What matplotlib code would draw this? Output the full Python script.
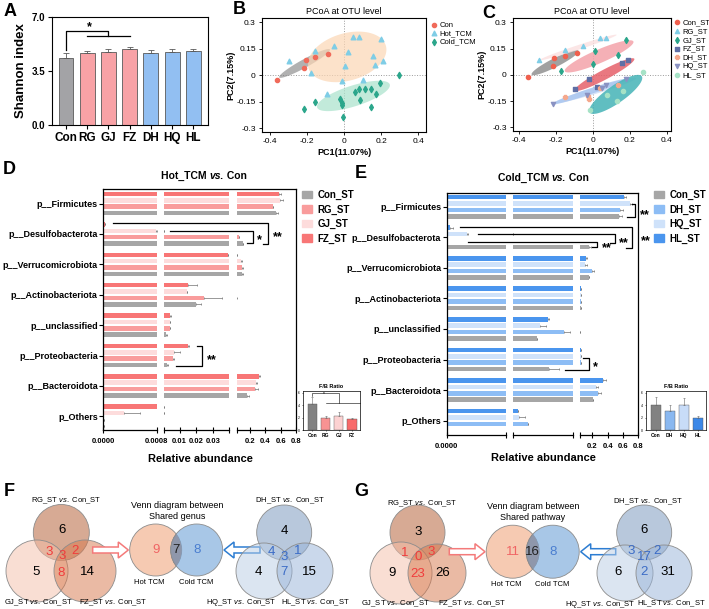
import numpy as np
import matplotlib
matplotlib.use('Agg')
import matplotlib.pyplot as plt
from matplotlib.patches import Circle, FancyArrow, Polygon, Patch
from matplotlib.colors import to_rgba

plt.rcParams['font.family'] = ['Liberation Sans', 'DejaVu Sans']
plt.rcParams['mathtext.fontset'] = 'custom'
plt.rcParams['mathtext.rm'] = 'Liberation Sans'
plt.rcParams['mathtext.it'] = 'Liberation Sans:italic'
plt.rcParams['mathtext.bf'] = 'Liberation Sans:bold'

# ---------------- data ----------------
# A: Shannon index
groups = ['Con', 'RG', 'GJ', 'FZ', 'DH', 'HQ', 'HL']
shannon = [4.34, 4.65, 4.75, 4.90, 4.65, 4.75, 4.82]
shannon_err = [0.32, 0.17, 0.17, 0.17, 0.22, 0.19, 0.13]

# B: PCoA, three groups
b_con_x = [-0.364, -0.216, -0.205, -0.154, -0.089]
b_con_y = [-0.026, 0.041, 0.090, 0.105, 0.122]
b_hot_x = [-0.296, -0.154, -0.178, -0.053, 0.050, 0.082, 0.199, 0.019, 0.154, 0.208, 0.168, 0.005, -0.010, 0.104, -0.092]
b_hot_y = [0.084, 0.141, 0.015, 0.169, 0.218, 0.218, 0.206, 0.135, 0.109, 0.079, 0.060, 0.056, -0.034, -0.028, -0.103]
b_cold_x = [0.296, 0.192, 0.148, 0.175, 0.114, 0.082, 0.059, 0.086, -0.022, -0.013, -0.010, -0.154, -0.215, -0.005, 0.147]
b_cold_y = [0.000, -0.041, -0.075, -0.107, -0.075, -0.079, -0.094, -0.139, -0.135, -0.154, -0.169, -0.148, -0.191, -0.233, -0.178]

# C: PCoA, seven groups
c_groups = ['Con_ST', 'RG_ST', 'GJ_ST', 'FZ_ST', 'DH_ST', 'HQ_ST', 'HL_ST']
c_pc1 = [[-0.355, -0.215, -0.212, -0.152, -0.089],
         [-0.291, -0.152, -0.056, 0.038, 0.069],
         [-0.176, 0.179, 0.011, -0.002, 0.138],
         [-0.020, -0.098, 0.156, 0.188, 0.020],
         [-0.152, -0.025, -0.020, 0.038, 0.134],
         [-0.215, -0.034, 0.069, 0.179, 0.047],
         [0.273, 0.161, 0.074, 0.128, -0.016]]
c_pc2 = [[-0.013, 0.053, 0.096, 0.109, 0.128],
         [0.087, 0.143, 0.168, 0.213, 0.213],
         [0.023, 0.200, 0.134, 0.062, 0.111],
         [-0.023, -0.083, 0.068, 0.083, -0.070],
         [-0.125, -0.121, -0.140, -0.077, -0.058],
         [-0.168, -0.115, -0.060, -0.021, -0.074],
         [0.015, -0.089, -0.115, -0.149, -0.202]]

# D / E: relative abundance of phyla
phyla = ['p__Firmicutes', 'p__Desulfobacterota', 'p__Verrucomicrobiota', 'p__Actinobacteriota',
         'p__unclassified', 'p__Proteobacteria', 'p__Bacteroidota', 'p_Others']
hot_con = [0.542, 0.107, 0.100, 0.0196, 0.0020, 0.0026, 0.164, 0.00001]
hot_rg = [0.498, 0.058, 0.100, 0.0250, 0.0040, 0.0060, 0.262, 0.00001]
hot_gj = [0.587, 0.00079, 0.084, 0.0142, 0.0040, 0.0068, 0.284, 0.00031]
hot_fz = [0.578, 0.00002, 0.039, 0.0152, 0.0042, 0.0150, 0.320, 0.00085]
hot_con_err = [0.02, 0.010, 0.015, 0.0030, 0.0006, 0.0003, 0.020, 0.0]
hot_rg_err = [0.01, 0.006, 0.010, 0.0106, 0.0003, 0.0004, 0.040, 0.0]
hot_gj_err = [0.05, 0.00001, 0.020, 0.0004, 0.0003, 0.0034, 0.010, 0.00024]
hot_fz_err = [0.03, 0.000005, 0.0, 0.0054, 0.0003, 0.0005, 0.015, 0.0]

cold_con = [0.553, 0.162, 0.153, 0.055, 0.0162, 0.0246, 0.214, 0.00001]
cold_dh = [0.562, 0.000005, 0.192, 0.056, 0.0343, 0.047, 0.279, 0.0107]
cold_hq = [0.690, 0.00028, 0.105, 0.054, 0.0184, 0.047, 0.249, 0.0048]
cold_hl = [0.614, 0.000045, 0.114, 0.055, 0.0239, 0.047, 0.344, 0.0037]
cold_con_err = [0.04, 0.02, 0.0, 0.0, 0.0, 0.0066, 0.0, 0.0]
cold_dh_err = [0.04, 0.0, 0.03, 0.0, 0.004, 0.0, 0.04, 0.0]
cold_hq_err = [0.03, 0.00001, 0.02, 0.0, 0.004, 0.0, 0.02, 0.0034]
cold_hl_err = [0.02, 0.00004, 0.02, 0.0, 0.0002, 0.0, 0.03, 0.0003]

# F/B ratio insets
fb_hot_groups = ['Con', 'RG', 'GJ', 'FZ']
fb_hot = [4.2, 1.9, 2.2, 1.7]
fb_hot_err = [1.1, 0.3, 0.7, 0.2]
fb_cold_groups = ['Con', 'DH', 'HQ', 'HL']
fb_cold = [4.0, 3.0, 4.0, 2.0]
fb_cold_err = [1.3, 1.1, 1.1, 0.3]

# F / G: Venn counts (A only, B only, C only, AB, AC, BC, ABC)
genus_hot = [6, 5, 14, 3, 2, 8, 3]
genus_cold = [4, 4, 15, 4, 1, 7, 3]
genus_shared = [9, 7, 8]
pathway_hot = [3, 9, 26, 1, 3, 23, 0]
pathway_cold = [6, 6, 31, 3, 2, 2, 17]
pathway_shared = [11, 16, 8]

# ---------------- figure ----------------
W, H = 709, 609
fig = plt.figure(figsize=(W / 100, H / 100), dpi=100)


def px_axes(x0, y0, x1, y1):
    return fig.add_axes([x0 / W, 1 - y1 / H, (x1 - x0) / W, (y1 - y0) / H])


def letter(x, y, s):
    fig.text(x / W, 1 - y / H, s, fontsize=13, fontweight='bold', ha='left', va='center')


GRAY = '#a3a3a6'
PINK = '#f8a2a6'
BLUE = '#92bff2'

# ---- A ----
ax = px_axes(52, 17, 208, 125)
xs = np.arange(len(groups))
ax.bar(xs, shannon, width=0.7, color=[GRAY, PINK, PINK, PINK, BLUE, BLUE, BLUE],
       edgecolor='#5a5a5a', linewidth=0.6,
       yerr=[np.zeros(len(groups)), shannon_err],
       error_kw=dict(ecolor='#5a5a5a', elinewidth=0.6, capsize=2.5, capthick=0.6))
ax.set_xlim(-0.66, 6.69)
ax.set_ylim(0, 7)
ax.set_yticks([0, 3.5, 7])
ax.set_yticklabels(['0.0', '3.5', '7.0'], fontsize=7, fontweight='bold')
ax.set_xticks(xs)
ax.set_xticklabels(groups, fontsize=8.5, fontweight='bold')
ax.tick_params(length=3, width=0.8, pad=2)
ax.set_ylabel('Shannon index', fontsize=9.5, fontweight='bold', labelpad=3)
for s in ax.spines.values():
    s.set_linewidth(0.8)
ax.plot([0, 0, 2, 2], [4.85, 6.1, 6.1, 5.75], color='k', lw=0.9)
ax.plot([1, 3], [5.75, 5.75], color='k', lw=0.9)
ax.text(1.1, 6.35, '*', fontsize=9, fontweight='bold', ha='center', va='center')
letter(4, 12, 'A')


# ---- B / C ----
def ellipse(ax, c, u, v, color, alpha):
    t = np.linspace(0, 2 * np.pi, 120)
    pts = np.column_stack([c[0] + np.cos(t) * u[0] + np.sin(t) * v[0],
                           c[1] + np.cos(t) * u[1] + np.sin(t) * v[1]])
    ax.add_patch(Polygon(pts, closed=True, fc=color, ec='none', alpha=alpha, zorder=1))


def pcoa_axes(rect, xlim):
    ax = px_axes(*rect)
    ax.set_xlim(*xlim)
    ax.set_ylim(-0.32, 0.325)
    ax.axhline(0, color='#9a9a9a', ls=':', lw=0.7, zorder=0)
    ax.axvline(0, color='#9a9a9a', ls=':', lw=0.7, zorder=0)
    ax.set_xticks([-0.4, -0.2, 0, 0.2, 0.4])
    ax.set_xticklabels(['-0.4', '-0.2', '0', '0.2', '0.4'], fontsize=6)
    ax.set_yticks([-0.3, -0.15, 0, 0.15, 0.3])
    ax.set_yticklabels(['-0.3', '-0.15', '0', '0.15', '0.3'], fontsize=6)
    ax.tick_params(length=2.5, width=0.6, pad=2)
    for s in ax.spines.values():
        s.set_linewidth(0.8)
    ax.set_xlabel('PC1(11.07%)', fontsize=6.5, fontweight='bold', labelpad=2)
    ax.set_ylabel('PC2(7.15%)', fontsize=6.5, fontweight='bold', labelpad=1)
    ax.set_title('PCoA at OTU level', fontsize=6.5, pad=3)
    return ax


ax = pcoa_axes((262, 18, 426, 132), (-0.443, 0.443))
ellipse(ax, (-0.213, 0.068), (0.137, 0.079), (-0.012, 0.02), '#7d7d7d', 0.6)
ellipse(ax, (0.017, 0.105), (0.21, 0.06), (-0.03, 0.13), '#fbd6b4', 0.7)
ellipse(ax, (0.051, -0.116), (0.196, 0.066), (-0.02, 0.055), '#a9e2cb', 0.7)
ax.scatter(b_con_x, b_con_y, s=9, marker='o', color='#f06a5a', zorder=3, label='Con')
ax.scatter(b_hot_x, b_hot_y, s=11, marker='^', color='#7fcde6', zorder=3, label='Hot_TCM')
ax.scatter(b_cold_x, b_cold_y, s=10, marker='d', color='#2ba68b', zorder=3, label='Cold_TCM')
ax.legend(loc='upper left', bbox_to_anchor=(1.02, 0.97), frameon=False, fontsize=5.5,
          handletextpad=0.1, labelspacing=0.15, borderaxespad=0, borderpad=0, handlelength=1.2)
letter(233, 9, 'B')

ax = pcoa_axes((513, 18, 671, 131), (-0.434, 0.423))
c_ell = [((-0.206, 0.07), (0.127, 0.068), (-0.012, 0.022), '#8a8a8a', 0.8),
         ((-0.08, 0.157), (0.208, 0.072), (-0.005, 0.012), '#fbe0e0', 0.8),
         ((0.033, 0.106), (0.186, 0.085), (-0.015, 0.035), '#f4a3aa', 0.85),
         ((0.063, 0.002), (0.161, 0.09), (-0.012, 0.025), '#e6606a', 0.85),
         ((0.013, -0.089), (0.221, 0.07), (-0.005, 0.018), '#cfdff7', 0.85),
         ((-0.022, -0.096), (0.203, 0.072), (-0.006, 0.015), '#a7c4ef', 0.8),
         ((0.123, -0.111), (0.141, 0.104), (-0.03, 0.04), '#44b3b6', 0.85)]
for c, u, v, col, a in c_ell:
    ellipse(ax, c, u, v, col, a)
c_markers = ['o', '^', 'd', 's', 'P', 'v', 'o']
c_colors = ['#f0604e', '#7fcde6', '#2aa58a', '#5f6fa5', '#f5a88c', '#8a92c2', '#a6e2c6']
for g, px, py, m, col in zip(c_groups, c_pc1, c_pc2, c_markers, c_colors):
    ax.scatter(px, py, s=9, marker=m, color=col, zorder=3, label=g)
ax.legend(loc='upper left', bbox_to_anchor=(1.01, 0.99), frameon=False, fontsize=5.5,
          handletextpad=0.1, labelspacing=0.18, borderaxespad=0, borderpad=0, handlelength=1.2)
letter(482, 13, 'C')

# ---- D / E ----
ypos = np.arange(len(phyla))
offsets = [-0.315, -0.105, 0.105, 0.315]


def broken_bars(rect, segs, lims, ticks, ticklabels, series, errs, colors, ylim):
    x0, y0, x1, y1 = rect
    w = x1 - x0
    for (f0, f1), lim, tk, tl in zip(segs, lims, ticks, ticklabels):
        sax = px_axes(x0 + f0 * w, y0, x0 + f1 * w, y1)
        for k in range(4):
            sax.barh(ypos + offsets[k], series[k], height=0.15, color=colors[k],
                     xerr=[np.zeros(len(ypos)), errs[k]],
                     error_kw=dict(ecolor='#707070', elinewidth=0.5, capsize=0.8, capthick=0.5))
        sax.set_xlim(*lim)
        sax.set_ylim(*ylim)
        for s in ['left', 'right', 'top']:
            sax.spines[s].set_visible(False)
        sax.spines['bottom'].set_linewidth(0.9)
        sax.set_yticks([])
        sax.set_xticks(tk)
        sax.set_xticklabels(tl, fontsize=5.5, fontweight='bold')
        sax.tick_params(axis='x', direction='inout', length=5, width=0.8, pad=3)
        sax.patch.set_alpha(0)
    frame = px_axes(*rect)
    frame.set_xlim(0, 1)
    frame.set_ylim(*ylim)
    frame.patch.set_alpha(0)
    frame.spines['bottom'].set_visible(False)
    for s in ['left', 'top', 'right']:
        frame.spines[s].set_linewidth(0.9)
    frame.set_xticks([])
    frame.set_yticks(ypos)
    frame.set_yticklabels(phyla, fontsize=6.5, fontweight='bold')
    frame.tick_params(axis='y', length=3, width=0.8, pad=1)
    return frame


def title_vs(xc, y, left, right):
    tv = fig.text(xc / W, 1 - y / H, 'vs.', fontsize=7.5, fontweight='bold', style='italic',
                  ha='center', va='bottom')
    fig.add_artist(matplotlib.text.Annotation(left + ' ', xy=(0, 0), xycoords=tv, ha='right', va='bottom',
                                              fontsize=7.5, fontweight='bold'))
    fig.add_artist(matplotlib.text.Annotation(' ' + right, xy=(1, 0), xycoords=tv, ha='left', va='bottom',
                                              fontsize=7.5, fontweight='bold'))


def fb_inset(rect, names, vals, errs, colors):
    iax = px_axes(*rect)
    xi = np.arange(len(names))
    iax.bar(xi, vals, width=0.7, color=colors, edgecolor='#555555', linewidth=0.3,
            yerr=[np.zeros(len(names)), errs], error_kw=dict(ecolor='#666666', elinewidth=0.4, capsize=1, capthick=0.4))
    iax.set_xlim(-0.7, 3.6)
    iax.set_ylim(0, 6.3)
    iax.set_yticks([0, 2, 4, 6])
    iax.set_yticklabels(['0', '2', '4', '6'], fontsize=2.5)
    iax.set_xticks(xi)
    iax.set_xticklabels(names, fontsize=3.5, fontweight='bold')
    iax.tick_params(length=1, width=0.4, pad=1)
    for s in iax.spines.values():
        s.set_linewidth(0.5)
    iax.set_title('F/B Ratio', fontsize=4, fontweight='bold', pad=2.5)
    return iax


lims = [(0, 0.0008), (0.0008, 0.04), (0.04, 0.8)]
seg_ticks = [[0, 0.0008], [0.0008, 0.01, 0.02, 0.03, 0.04], [0.04, 0.2, 0.4, 0.6, 0.8]]

hot_colors = ['#f87676', '#fddcdc', '#f99c9c', '#a6a6a6']
frame = broken_bars((103.3, 189.3, 296, 430), [(0, 0.277), (0.317, 0.654), (0.696, 1.0)], lims, seg_ticks,
                    [['0.0000', '0.0008'], ['', '0.01', '0.02', '0.03', ''], ['', '0.2', '0.4', '0.6', '0.8']],
                    [hot_fz, hot_gj, hot_rg, hot_con], [hot_fz_err, hot_gj_err, hot_rg_err, hot_con_err],
                    hot_colors, (7.45, -0.47))
kw = dict(color='k', lw=0.9, clip_on=False)
frame.plot([0.346, 0.779, 0.779, 0.744], [0.9, 0.9, 1.30, 1.30], **kw)
frame.plot([0.052, 0.856, 0.856, 0.83], [0.647, 0.647, 1.33, 1.33], **kw)
frame.plot([0.484, 0.514, 0.514, 0.377], [4.70, 4.70, 5.34, 5.34], **kw)
skw = dict(fontsize=9, fontweight='bold', ha='center', va='center', clip_on=False)
frame.text(0.808, 1.22, '*', **skw)
frame.text(0.908, 1.12, '**', **skw)
frame.text(0.562, 5.15, '**', **skw)
fig.text(200 / W, 1 - 459 / H, 'Relative abundance', fontsize=8, fontweight='bold', ha='center', va='center')
title_vs(217, 181, 'Hot_TCM', 'Con')
fig.legend(handles=[Patch(color=c, label=l) for c, l in
                    zip(['#a6a6a6', '#f99c9c', '#fddcdc', '#f87676'], ['Con_ST', 'RG_ST', 'GJ_ST', 'FZ_ST'])],
           loc='upper left', bbox_to_anchor=(302 / W, 1 - 190 / H), frameon=False,
           prop=dict(weight='bold', size=7), handlelength=1.0, handleheight=0.8,
           labelspacing=0.45, handletextpad=0.6, borderaxespad=0, borderpad=0)
iax = fb_inset((303, 391, 360, 430), fb_hot_groups, fb_hot, fb_hot_err,
               ['#828282', '#f89292', '#fcd2d2', '#f86a6a'])
iax.plot([0, 0, 2, 2], [5.5, 6.0, 6.0, 4.3], color='k', lw=0.4, clip_on=False)
iax.plot([1, 3.6], [4.3, 4.3], color='k', lw=0.4, clip_on=False)
iax.text(0.9, 5.85, '*', fontsize=3.5, ha='center', va='center', clip_on=False)
letter(3, 170, 'D')

cold_colors = ['#4a95ee', '#cfe2fa', '#8dbdf5', '#a6a6a6']
frame = broken_bars((446.7, 193.3, 638.3, 435), [(0, 0.31), (0.348, 0.657), (0.696, 1.0)], lims,
                    [[0, 0.0008], [0.0008, 0.04], [0.04, 0.2, 0.4, 0.6, 0.8]],
                    [['0.0000', ''], ['', ''], ['', '0.2', '0.4', '0.6', '0.8']],
                    [cold_hl, cold_hq, cold_dh, cold_con], [cold_hl_err, cold_hq_err, cold_dh_err, cold_con_err],
                    cold_colors, (7.47, -0.44))
frame.plot([0.965, 0.983, 0.983, 0.939], [-0.087, -0.087, 0.327, 0.327], **kw)
frame.plot([0.07, 0.965, 0.965, 0.935], [0.65, 0.65, 1.36, 1.36], **kw)
frame.plot([0.165, 0.878, 0.878, 0.852], [0.89, 0.89, 1.20, 1.20], **kw)
frame.plot([0.113, 0.783, 0.783, 0.757], [1.17, 1.17, 1.31, 1.31], **kw)
frame.plot([0.713, 0.744, 0.744, 0.617], [4.96, 4.96, 5.34, 5.34], **kw)
frame.text(1.035, 0.28, '**', **skw)
frame.text(1.04, 1.13, '**', **skw)
frame.text(0.925, 1.19, '**', **skw)
frame.text(0.835, 1.34, '**', **skw)
frame.text(0.774, 5.24, '*', **skw)
fig.text(543 / W, 1 - 458 / H, 'Relative abundance', fontsize=8, fontweight='bold', ha='center', va='center')
title_vs(559, 183, 'Cold_TCM', 'Con')
fig.legend(handles=[Patch(color=c, label=l) for c, l in
                    zip(['#a6a6a6', '#8dbdf5', '#cfe2fa', '#4a95ee'], ['Con_ST', 'DH_ST', 'HQ_ST', 'HL_ST'])],
           loc='upper left', bbox_to_anchor=(654 / W, 1 - 190 / H), frameon=False,
           prop=dict(weight='bold', size=7), handlelength=1.0, handleheight=0.8,
           labelspacing=0.45, handletextpad=0.6, borderaxespad=0, borderpad=0)
fb_inset((646, 391, 706, 430), fb_cold_groups, fb_cold, fb_cold_err,
         ['#828282', '#8ab8f0', '#c8dcf8', '#3c88e8'])
letter(355, 173, 'E')

# ---- F / G Venn diagrams ----
av = px_axes(0, 440, W, H)
av.set_xlim(0, W)
av.set_ylim(H, 440)
av.axis('off')

RED = '#f03c3c'
BL = '#3b6cc6'


def venn3(circles, faces, counts, pos, cols, labels, label_pos):
    for (cx, cy, r), fc in zip(circles, faces):
        av.add_patch(Circle((cx, cy), r, fc=to_rgba(fc, 0.5), ec='#8c8c8c', lw=0.6))
    for n, (x, y), col in zip(counts, pos, cols):
        av.text(x, y, str(n), fontsize=9.5, color=col, ha='center', va='center')
    for lab, (x, y) in zip(labels, label_pos):
        av.text(x, y, lab, fontsize=5.5, ha='center', va='center')


def venn2(c1, c2, r, counts, title, tx, ty):
    a = Circle(c1, r, fc=to_rgba('#f0a880', 0.6), ec='#8c8c8c', lw=0.6)
    b = Circle(c2, r, fc=to_rgba('#6fa3d8', 0.6), ec='#8c8c8c', lw=0.6)
    av.add_patch(a)
    av.add_patch(b)
    lens = Circle(c2, r, fc='#8f97ab', ec='#8c8c8c', lw=0.6)
    av.add_patch(lens)
    lens.set_clip_path(a)
    av.text(c1[0], c1[1], str(counts[0]), fontsize=9.5, color='#f06464', ha='center', va='center')
    av.text((c1[0] + c2[0]) / 2, c1[1], str(counts[1]), fontsize=9.5, color='#222222', ha='center', va='center')
    av.text(c2[0], c2[1], str(counts[2]), fontsize=9.5, color='#4a7ed0', ha='center', va='center')
    av.text(c1[0] - 6, c1[1] + 33, 'Hot TCM', fontsize=5.5, ha='center', va='center')
    av.text(c2[0] - 1, c2[1] + 33, 'Cold TCM', fontsize=5.5, ha='center', va='center')
    av.text(tx, ty, title, fontsize=6.5, ha='center', va='center', linespacing=1.15)


def hollow_arrow(x0, x1, y, color):
    av.add_patch(FancyArrow(x0, y, x1 - x0, 0, width=6, head_width=16, head_length=10,
                            length_includes_head=True, fc='white', ec=color, lw=1.1))


hot_faces = ['#b1572b', '#f5bfa9', '#d7774b']
cold_faces = ['#7393bb', '#b9cde5', '#97b3d9']
vs = r' $\it{vs.}$ Con_ST'

# F
venn3([(61.3, 532.5, 28), (37, 571, 31), (85, 571, 31)], hot_faces, genus_hot,
      [(61.7, 530), (36, 571.7), (87.3, 571.7), (49, 551.7), (75, 550.7), (61, 572.7), (61.7, 556)],
      ['k', 'k', 'k', RED, RED, RED, RED],
      ['RG_ST' + vs, 'GJ_ST' + vs, 'FZ_ST' + vs], [(66.7, 501), (38, 603), (113, 603)])
hollow_arrow(92.7, 128.3, 550, '#f47a7a')
venn2((155.7, 550), (196.7, 550), 26, genus_shared, 'Venn diagram between\nShared genus', 177, 511)
hollow_arrow(260, 224, 550, '#2d7dd2')
venn3([(284.2, 532.5, 27.5), (264, 571, 28), (305, 571, 28)], cold_faces, genus_cold,
      [(284, 530.7), (258.3, 571.7), (309.3, 571.7), (271.7, 551.7), (297.3, 551), (284, 571.7), (284.3, 557.3)],
      ['k', 'k', 'k', BL, BL, BL, BL],
      ['DH_ST' + vs, 'HQ_ST' + vs, 'HL_ST' + vs], [(290, 501), (241.7, 603), (315, 603)])
letter(4, 491, 'F')

# G
venn3([(417.5, 532.5, 27.5), (401, 573, 31), (437, 573, 29)], hot_faces, pathway_hot,
      [(417.7, 531.7), (391.7, 573.3), (442.7, 573.3), (404.3, 553.3), (430.7, 551.7), (417.7, 574), (417.7, 557.3)],
      ['k', 'k', 'k', RED, RED, RED, RED],
      ['RG_ST' + vs, 'GJ_ST' + vs, 'FZ_ST' + vs], [(422.7, 503.3), (395, 604), (471.7, 604)])
hollow_arrow(449.3, 485, 551.7, '#f47a7a')
venn2((512.7, 551.7), (552.7, 551.7), 26.5, pathway_shared, 'Venn diagram between\nShared pathway', 533, 512)
hollow_arrow(615.7, 580.7, 551.7, '#2d7dd2')
venn3([(644.2, 532.5, 27.5), (625, 573, 28), (664, 573, 28)], cold_faces, pathway_cold,
      [(644, 530), (618.3, 571.7), (668.3, 572.3), (631, 551), (657.3, 551), (644, 572.3), (644, 557.3)],
      ['k', 'k', 'k', BL, BL, BL, BL],
      ['DH_ST' + vs, 'HQ_ST' + vs, 'HL_ST' + vs], [(648.3, 501.7), (600.7, 604), (671.7, 604)])
letter(354, 492, 'G')

fig.savefig('out.png', dpi=100)
